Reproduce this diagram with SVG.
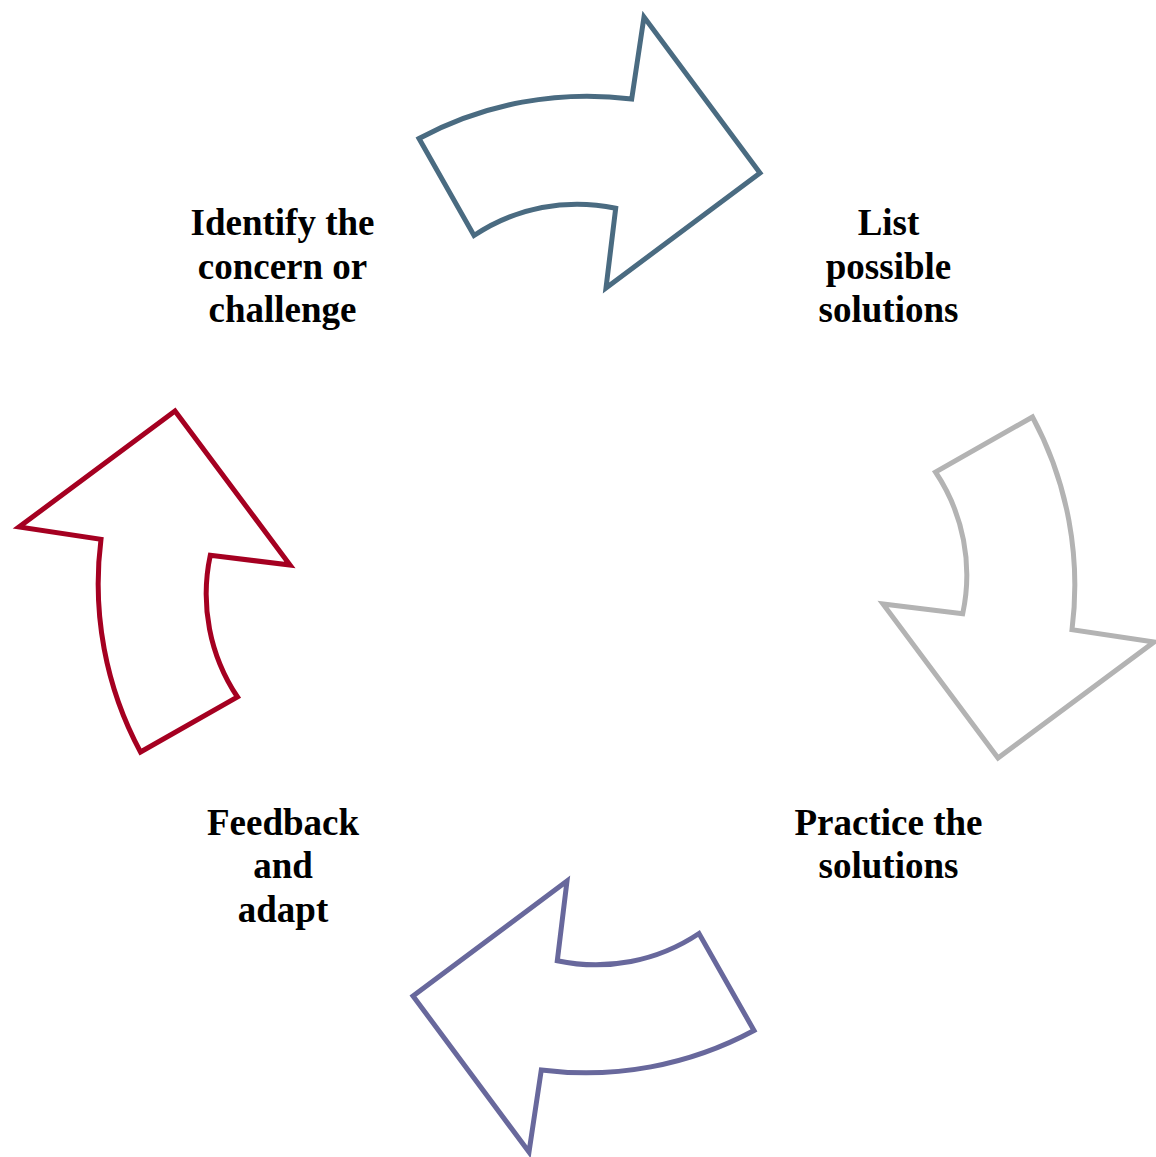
<svg xmlns="http://www.w3.org/2000/svg" width="1156" height="1157" viewBox="0 0 1156 1157">
  <style>
    .arrow { fill: #FFFFFF; stroke-width: 5; stroke-linejoin: miter; stroke-miterlimit: 10; }
    .label { font-family: "Liberation Serif", "Times New Roman", serif; font-weight: bold; font-size: 37px; fill: #000000; text-anchor: middle; }
  </style>
  <defs>
    <path id="cycleArrow" d="M 419 138.5 L 474 235.5 A 185 185 0 0 1 615.7 208.3 L 606 288 L 760 173 L 644 17 L 631.7 99 A 355 355 0 0 0 419 138.5 Z"/>
  </defs>
  <rect x="0" y="0" width="1156" height="1157" fill="#FFFFFF"/>
  <g id="connectors">
    <use id="arrow-1" href="#cycleArrow" class="arrow" stroke="#4A6B81"/>
    <use id="arrow-2" href="#cycleArrow" class="arrow" stroke="#B3B3B3" transform="rotate(90 586.5 584.5)"/>
    <use id="arrow-3" href="#cycleArrow" class="arrow" stroke="#68689C" transform="rotate(180 586.5 584.5)"/>
    <use id="arrow-4" href="#cycleArrow" class="arrow" stroke="#A50021" transform="rotate(270 586.5 584.5)"/>
  </g>
  <g id="node-identify">
    <text class="label" x="282.5" y="235">Identify the</text>
    <text class="label" x="282.5" y="278.5">concern or</text>
    <text class="label" x="282.5" y="322">challenge</text>
  </g>
  <g id="node-list">
    <text class="label" x="888.5" y="235">List</text>
    <text class="label" x="888.5" y="278.5">possible</text>
    <text class="label" x="888.5" y="322">solutions</text>
  </g>
  <g id="node-practice">
    <text class="label" x="888.5" y="834.5">Practice the</text>
    <text class="label" x="888.5" y="878">solutions</text>
  </g>
  <g id="node-feedback">
    <text class="label" x="283" y="834.5">Feedback</text>
    <text class="label" x="283" y="878">and</text>
    <text class="label" x="283" y="921.5">adapt</text>
  </g>
</svg>
